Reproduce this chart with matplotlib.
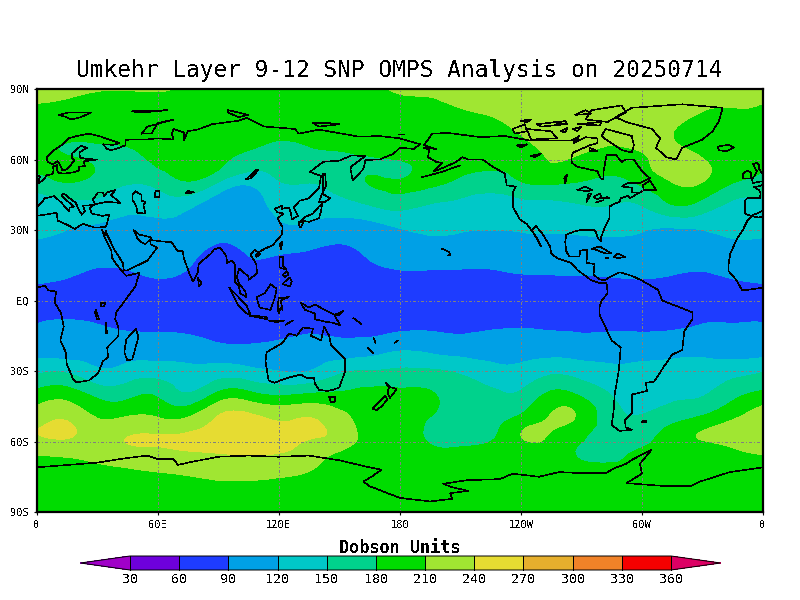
import numpy as np
import matplotlib
matplotlib.use("Agg")
import matplotlib.pyplot as plt
from matplotlib.tri import Triangulation, UniformTriRefiner

plt.rcParams["font.family"] = "DejaVu Sans Mono"
plt.rcParams["text.antialiased"] = False
plt.rcParams["lines.antialiased"] = False

TITLE = "Umkehr Layer 9-12 SNP OMPS Analysis on 20250714"
UNITS = "Dobson Units"

LEVELS = [30, 60, 90, 120, 150, 180, 210, 240, 270, 300, 330, 360]
COLORS = ["#a000c8", "#6e00dc", "#1e3cff", "#00a0e6", "#00c8c8", "#00d28c", "#00dc00",
          "#a0e632", "#e6dc32", "#e6af2d", "#f08228", "#f50000", "#dc0064"]

LON_TICKS = [0, 60, 120, 180, 240, 300, 360]
LON_LABELS = ["0", "60E", "120E", "180", "120W", "60W", "0"]
LAT_TICKS = [-90, -60, -30, 0, 30, 60, 90]
LAT_LABELS = ["90S", "60S", "30S", "EQ", "30N", "60N", "90N"]

# field, one list per longitude
LATS = [90, 80, 70, 65, 60, 55, 50, 40, 30, 20, 10, 0, -10, -20, -30, -40, -50, -55, -60, -65, -70, -80, -90]
LONS = list(range(0, 361, 15))
F000 = [216, 206, 195, 191, 187, 183, 162, 138, 126, 110, 96, 81, 90, 105, 142, 191, 225, 239.5, 232, 213, 200, 192, 185]
F015 = [213, 204, 186, 178, 184, 190, 179, 139, 120, 106, 91, 79, 93, 102, 145, 197, 236, 246, 236, 216, 202, 192, 185]
F030 = [211, 200, 184, 178, 176, 178.5, 168, 140, 113, 98, 84, 76, 90, 106, 125, 172, 210, 225, 230, 222, 208, 195, 185]
F045 = [211, 197, 186, 179.5, 174, 165, 152, 127, 110, 99, 85, 74, 84, 105, 130, 171, 213, 231, 241, 228, 213, 196, 185]
F060 = [211, 202, 192, 188, 184, 176, 158, 130, 110, 100, 91, 75, 84, 103, 135, 176, 211, 233, 243, 232, 217, 198, 185]
F075 = [209, 204, 197, 195, 192, 187, 177, 125, 108, 97, 85, 72, 82, 102, 127, 153, 212, 236, 246, 237, 221, 200, 185]
F090 = [209, 204, 197, 193, 188, 178, 147, 103, 96, 83, 75, 70, 78, 95, 133, 188, 243, 250, 254, 240, 226, 202, 185]
F105 = [209, 203, 191, 183, 169, 151, 124, 104, 97, 91, 80, 70, 76, 93, 128, 190, 248, 254, 256, 243, 228, 202, 185]
F120 = [209, 200, 183, 175, 165, 156, 147, 128, 113, 91, 80, 72, 78, 96, 120, 177, 236, 248, 252, 240, 224, 200, 185]
F135 = [208, 197, 184, 179.5, 173, 163, 150, 132, 112, 87, 76, 70, 80, 101, 120, 183, 240.5, 246, 238, 225, 215, 197, 185]
F150 = [208, 196, 187, 182, 175, 170, 163, 135, 104, 83, 74, 68, 83, 98, 143, 185, 220, 229, 226, 207, 199, 192, 185]
F165 = [207, 198, 190, 186, 178, 178, 181, 147, 107, 93, 80, 68, 78, 103, 151, 190, 202, 202, 201, 199, 196, 190, 185]
F180 = [212, 203, 194, 190, 181, 174, 183, 158, 118, 100, 84, 68, 80, 114, 155, 187, 200, 202, 200, 198, 195, 190, 185]
F195 = [213, 204, 197, 193, 191, 190, 186, 145, 124, 103, 84, 70, 83, 110, 154, 183, 179, 174, 178, 186, 192, 189, 185]
F210 = [219, 208, 199, 195, 192, 185, 172, 139, 122, 101, 84, 70, 82, 104, 145, 165, 172, 173, 176, 186, 191, 188, 185]
F225 = [224, 212, 198, 191, 186, 179, 163, 135, 120.5, 103, 83, 70, 84, 106, 130, 157, 168, 173, 180, 187, 190, 188, 185]
F240 = [233, 222, 209, 200, 194, 187, 178, 136, 121, 105, 87, 70, 86, 106, 129, 155, 188, 208, 206, 197, 194, 189, 185]
F255 = [237, 231, 224, 216, 211, 203, 183, 140, 122, 105, 88, 72, 84, 107, 142, 187, 212, 211, 205, 202, 197, 190, 185]
F270 = [238, 233, 224, 214, 206, 192, 178, 147, 124, 107, 89, 73, 83, 103, 136, 175, 203, 190, 181, 175, 185, 188, 185]
F285 = [238, 232, 216, 209, 202, 186, 172, 148, 126, 108, 90, 74, 83, 105, 127, 149, 160, 166, 170, 175, 181, 186, 185]
F300 = [238, 230, 219, 213, 206, 199, 185, 149, 122, 107, 92, 74, 82, 107, 126, 138, 153, 163, 173, 185, 186, 186, 185]
F315 = [238, 225, 210.5, 215, 222, 223, 209, 176, 116, 104, 88, 74, 84, 108, 130, 145, 168, 190, 197, 196, 194, 188, 185]
F330 = [235, 209, 198, 203, 211, 216, 209, 165, 120, 103, 85, 77, 90, 108, 134, 148, 186, 209, 209, 197, 193, 187, 185]
F345 = [220, 208, 204, 203, 201, 198, 180, 142, 126, 110, 92, 75, 90.5, 104, 138, 171, 207, 222, 217, 205, 198, 190, 185]
F360 = [215, 207, 198, 192, 187, 179, 170, 140, 126, 108, 95, 82, 90.5, 103, 148, 188, 232, 238, 232, 212, 200, 192, 185]

# coastlines as (lon, lat), lon runs 0..360
EUROPE_ASIA = [(0, 49.4), (1.5, 50.2), (3.5, 51.3), (4.5, 52.5), (5, 53.3), (8, 53.8), (8.5, 55.5), (8, 57), (10.5, 57.7), (10, 56),
               (10.8, 54.3), (14, 54), (18.5, 54.6), (21, 55.3), (21, 57), (24, 57.2), (23.5, 59.2), (28, 59.7), (30, 60), (25, 60.2), (21.5, 60.8),
               (21.3, 63), (25, 65), (22, 65.8), (17.5, 62.5), (17.5, 60.7), (18.8, 59.8), (16.5, 57), (14.3, 55.5), (12.8, 55.5), (11.5, 58), (10.5, 59.3),
               (8, 58), (5.5, 59), (5, 61), (8, 63.5), (13, 66.5), (16, 69), (20, 70), (25.7, 71), (31, 70), (41, 67), (38, 66.2), (33, 66.5), (35, 64.5),
               (37, 64), (40, 64.7), (44, 66), (44, 68.4), (54, 68.5), (60, 69), (68, 68.5), (67, 71), (68, 73), (73, 71.5), (73, 68), (75, 72), (80, 72.8),
               (87, 75), (100, 76.5), (104, 77.7), (113, 74), (128, 73), (130, 71), (140, 72.7), (160, 69.7), (170, 70), (180, 69), (190, 66.5), (187, 64.5),
               (180, 65), (177, 62.5), (170, 60), (163, 59.8), (162, 56), (156.7, 51), (155.6, 56), (156, 57), (163, 61.5), (156, 61.7), (150, 59.5), (142, 59),
               (135.5, 54.7), (141, 53), (140, 48), (135, 43.5), (130.5, 42.5), (127.5, 39.7), (129.5, 36), (126.5, 34.5), (126, 37.5), (125, 39.6), (121.5, 39),
               (122, 40.5), (118, 39), (119.5, 37.5), (122.5, 37), (119.5, 35), (122, 31), (121.5, 28), (117, 23.5), (113, 22), (110, 20.5), (108, 21.5),
               (106, 19.5), (108.9, 15.5), (109.3, 11.5), (105, 8.7), (105, 10.2), (100.5, 13.5), (99.2, 10), (100.5, 7), (103.4, 4), (104, 1.5), (101, 3),
               (100.3, 6), (98.3, 8), (98.5, 15), (97, 17), (94.5, 16), (94, 19), (91, 22.5), (88, 21.8), (86.5, 20), (80.3, 15.5), (80, 12), (77.5, 8), (76, 11),
               (73, 18), (72.5, 21), (70, 21), (67, 24.8), (61.5, 25.2), (57, 25.7), (56.5, 27), (51, 28), (48, 30), (50, 26.5), (51.5, 25), (54, 24), (56.3, 26),
               (56.5, 24), (59.8, 22.5), (55, 17), (45, 12.8), (43.3, 12.7), (42.8, 16), (39, 21), (35, 28), (34.5, 29.5), (34.3, 27.8), (33, 29), (32.5, 30)]
AFRICA_E = [(32.5, 30), (33.7, 27), (37, 21.5), (37.5, 18), (40, 15), (43.3, 11.5), (44.5, 10.5), (51, 11.8), (49, 6), (43, -1), (39.5, -5), (39, -8), (40.5, -11),
            (40.7, -15), (35, -20), (35.5, -24), (32.8, -26), (30.5, -31), (26, -34), (20, -34.8), (18.3, -33.8), (15, -27), (14.5, -22), (11.8, -17), (13.5, -11),
            (12, -5), (9, -1), (9.7, 3.8), (6, 4.3), (4, 6.3), (0, 5.5)]
AFRICA_W = [(360, 5.5), (352, 4.5), (349.5, 4.5), (347, 8.5), (343, 12.5), (342.8, 14.7), (343.8, 20), (347, 26), (350, 30), (352.3, 34), (354.5, 35.8), (358, 35.3), (360, 36)]
MEDITERRANEAN = [(0, 36), (10, 37.3), (10.5, 34), (15, 32.3), (19, 30.5), (23, 32.6), (29, 31), (32.5, 31.2), (34.3, 31.3), (35, 33), (36, 36.5), (32.5, 36), (30, 36.5),
                 (27.3, 37), (26.3, 39.5), (29, 41), (35, 42), (41.5, 41.5), (37, 44.8), (39, 47), (35, 46), (33.5, 44.5), (33, 46), (30.5, 46), (28, 43), (29, 41), (26, 40.5),
                 (23, 40.5), (24, 38), (22.5, 36.5), (21, 38.5), (19.5, 41.5), (13.5, 45.5), (12.3, 44.5), (16, 41.8), (18.5, 40), (16.5, 39.5), (16, 38), (12.5, 41.5),
                 (8.8, 44.4), (4, 43.5), (3, 42), (0, 39.5)]
IBERIA = [(360, 39.5), (359.5, 38), (354, 36), (351, 37), (351, 42.5), (352.2, 43.5), (358.5, 43.5), (358.8, 45.5), (358, 47), (355.5, 48.4), (358.5, 48.7), (360, 49.4)]
UK_E = [(0, 53.5), (1.7, 52.7), (1, 51), (0, 50.8)]
UK_W = [(360, 50.8), (355, 50), (354.5, 51.6), (356, 53.3), (357, 55), (355, 58), (357, 58.6), (358, 57.7), (358, 56), (360, 53.5)]
IRELAND = [(350, 52), (350, 54), (352, 55.2), (354, 54.5), (354, 52), (350, 52)]
ICELAND = [(338, 64), (337.5, 65.5), (343, 66.3), (345.5, 65), (342, 63.5), (338, 64)]
CASPIAN = [(50, 37.3), (54, 37), (53, 40.5), (54, 42), (52, 42.5), (52, 45), (49, 46.5), (47.5, 45), (47.5, 43), (49.5, 40), (50, 37.3)]
ARAL = [(58.5, 44), (61, 44), (61, 46.5), (59, 46.5), (58.5, 44)]
BAIKAL = [(104, 51.7), (106, 52), (110, 55.5), (109, 55.7), (104, 51.7)]
BALKHASH = [(74, 45.5), (78, 46), (75, 46.7), (74, 45.5)]
VICTORIA = [(32, -1), (34, -1), (33.5, -2.5), (32, -2.5), (32, -1)]
TANGANYIKA = [(29.5, -4), (31, -8), (30, -8), (29, -5), (29.5, -4)]
MALAWI = [(34.5, -9.5), (34.5, -14), (35, -14), (34.3, -9.5)]
MADAGASCAR = [(49.3, -12), (50.5, -15.5), (47.5, -25), (45, -25.5), (43.5, -22), (44.5, -16.5), (49.3, -12)]
SRI_LANKA = [(80, 9.5), (81.8, 7.5), (80.5, 6), (80, 9.5)]
HONSHU = [(131, 34), (135, 33.5), (140, 35), (141, 38), (141.5, 41), (140, 40), (137, 37), (133, 35.5), (131, 34)]
KYUSHU = [(130, 33.5), (132, 33), (131, 31), (130, 32), (130, 33.5)]
HOKKAIDO = [(140, 42), (141.5, 45.5), (145.5, 43.5), (143, 42), (140, 42)]
SAKHALIN = [(142, 46), (143.5, 49), (143, 54), (142, 54), (142, 50), (142, 46)]
TAIWAN = [(121, 22), (122, 25), (120.5, 24), (121, 22)]
HAINAN = [(109, 18.5), (111, 19.7), (110, 20.2), (108.7, 19.3), (109, 18.5)]
LUZON = [(120.5, 14), (120.5, 18.5), (122.2, 18.5), (122, 15), (124, 13), (120.5, 14)]
MINDANAO = [(122, 7), (125.5, 6), (126.5, 8), (125.5, 9.7), (123, 8), (122, 7)]
VISAYAS = [(122, 11), (123, 10), (125, 11), (124, 12.5), (122, 11)]
BORNEO = [(109, 1.5), (113, 3), (116, 7), (119, 5), (118, 1), (116, -4), (110.5, -3), (109, 1.5)]
SUMATRA = [(95.5, 5.5), (104, -2), (106, -6), (104, -5.5), (100, -2), (95.5, 5.5)]
JAVA = [(105.5, -6.5), (114.5, -8), (114, -7), (108, -6.5), (105.5, -6.5)]
SULAWESI = [(120, 1), (125, 1.5), (121, 0), (122, -4), (121, -3), (120, -5.5), (119.5, -3), (120, 1)]
NEW_GUINEA = [(131, -1), (135, -3), (138, -1.7), (145, -5), (147.5, -6), (150.5, -10.5), (147, -9.5), (143, -9), (138, -8), (138, -5.5), (133, -4), (131, -1)]
TIMOR = [(123.5, -10.3), (127, -8.5), (125, -9.5), (123.5, -10.3)]
SUNDA = [(115, -8.5), (120, -8.5), (123, -8.5), (119, -9.2), (115, -8.5)]
NEW_BRITAIN = [(148, -6), (152, -4.5), (150, -6.3), (148, -6)]
SOLOMON = [(157, -7.5), (161, -10)]
NEW_CALEDONIA = [(164, -20), (167, -22.5), (165, -21), (164, -20)]
VANUATU = [(167, -16), (168, -18)]
FIJI = [(177.5, -18), (179, -17)]
HAWAII = [(201, 22), (203, 21.3), (204.5, 20.5), (205, 19.5), (204, 19.2)]
AUSTRALIA = [(114, -22), (113.5, -26), (115, -34), (118, -35), (124, -33), (131, -31.5), (134, -33), (137.5, -33), (138, -35.5), (140, -38), (144, -38.5), (147, -38),
             (150, -37), (153, -30), (153, -25), (146, -19), (145, -15), (142.5, -11), (141, -17), (136, -15), (137, -12), (132, -11.5), (129, -15), (125, -14), (122, -18),
             (117, -20.5), (114, -22)]
TASMANIA = [(145, -41), (148, -41), (148, -43), (146, -43.5), (145, -41)]
NZ_NORTH = [(173, -35), (175.5, -37), (178.5, -37.5), (176.5, -40), (175, -41.5), (174, -39), (174.7, -37), (173, -35)]
NZ_SOUTH = [(172.7, -40.7), (174, -42), (171, -45), (168.5, -46.7), (166.5, -46), (170, -43), (172.7, -40.7)]
GREENLAND = [(287, 78), (295, 82), (320, 83.5), (340, 82), (338, 76), (335, 72), (330, 68.5), (320, 65), (317, 60), (312, 61), (307, 65), (309, 69), (305, 73), (292, 76), (287, 78)]
BAFFIN = [(282, 73), (295, 70), (296, 66), (295, 63), (290, 64), (283, 68), (280, 70), (282, 73)]
VICTORIA_ISLAND = [(243, 73), (255, 72), (258, 69), (245, 68.5), (243, 73)]
BANKS = [(236, 73), (242, 75), (243, 72), (237, 71), (236, 73)]
ELLESMERE = [(272, 77), (283, 76), (292, 80), (290, 83), (275, 81), (272, 77)]
AXEL_HEIBERG = [(267, 79), (272, 81), (275, 79.5), (267, 79)]
DEVON = [(268, 75), (280, 76), (279, 74.5), (268, 75)]
MELVILLE = [(248, 75), (258, 76), (262, 75), (250, 74), (248, 75)]
BATHURST = [(258, 75.5), (262, 76.5), (263, 75), (258, 75.5)]
SOMERSET = [(266, 73), (270, 74), (268, 72), (266, 73)]
PRINCE_WALES = [(260, 72), (263, 73.5), (262, 71.5), (260, 72)]
PRINCE_PATRICK = [(240, 76.5), (245, 77), (243, 75.8), (240, 76.5)]
SOUTHAMPTON = [(274, 65), (278, 63.5), (274, 63.5), (274, 65)]
NEWFOUNDLAND = [(300.5, 49), (304, 51), (307, 47), (301, 47), (300.5, 49)]
NORTH_AMERICA = [(192, 66), (196, 71), (204, 71.3), (220, 69.5), (232, 70), (245, 68), (255, 68), (265, 68), (269, 70), (266, 67), (272, 69.5), (278, 69), (278, 67), (274, 66),
                 (266, 63), (265, 61), (265.3, 58.7), (267.5, 57), (278, 55), (279.5, 52), (281, 51.5), (281, 55), (282.5, 62), (287, 62), (290, 59), (292, 60), (296, 60),
                 (300, 55), (304, 52), (299, 50), (293, 50), (290, 48.5), (295, 48), (295, 46), (299, 46), (300, 46.5), (294, 43.5), (293, 44.5), (289.5, 43.5), (289, 42),
                 (286, 41), (284, 40), (284, 38), (284, 35), (282, 32), (279.8, 27), (280, 25.3), (278.5, 26), (277, 29.5), (276, 30), (270, 30), (267, 29.5), (262.5, 28),
                 (262, 25), (262.5, 21), (264, 18.7), (269, 18.8), (269.5, 21.3), (273, 21.5), (272.5, 16), (276.5, 15.5), (276, 11), (279, 9), (281.5, 8.5)]
AMERICA_WEST = [(282.5, 7.5), (279, 7.5), (275, 8.5), (272, 10.5), (268, 13), (265, 16), (258, 18), (255, 20), (254.5, 23), (251, 28), (247.5, 31.7), (245.5, 30), (250, 23),
                (247.7, 27), (243, 32.5), (239.5, 34.5), (236, 40), (236, 46), (237.5, 48.5), (233, 49), (232, 54), (226, 57), (221, 60), (214, 60), (211, 61), (208, 59),
                (203, 57), (197, 55), (201, 58.5), (198, 59), (194, 61), (194.5, 64), (192, 65), (198, 64.5), (192, 66)]
ALEUTIANS = [(191, 52.5), (200, 54.5), (205, 56), (210, 57.5)]
SOUTH_AMERICA = [(281.5, 8.5), (284, 10), (289, 12), (295, 10.5), (300, 8.5), (308, 4.5), (310, 0), (316, -2), (325, -5), (325, -8), (321, -13), (320, -21), (315, -23), (311, -28),
                 (306, -34.5), (302, -35), (302.5, -38.5), (295, -40), (295, -42), (295, -48), (291.5, -51), (292, -54), (295, -55), (289, -55.5), (285, -53), (286, -47),
                 (286.5, -40), (288.5, -30), (289.5, -20), (285, -17), (279, -6), (279, -3), (280, 0), (283, 3), (282.5, 7.5)]
FALKLANDS = [(300, -51.5), (302, -51), (302, -52), (300, -52), (300, -51.5)]
CUBA = [(275, 22), (279, 23), (285, 20), (282, 20), (277.5, 21.5), (275, 22)]
HISPANIOLA = [(286, 18.5), (288, 20), (291.5, 18.5), (288, 18), (286, 18.5)]
JAMAICA = [(282, 18), (283.5, 18.2)]
SUPERIOR = [(268, 47), (272, 48.5), (275.5, 47), (273, 46.5), (268, 47)]
MICHIGAN = [(272.5, 42), (273.5, 45.5), (275, 45.5), (272.5, 42)]
HURON = [(276, 44), (279, 45.5), (280, 44), (278, 43), (276, 44)]
ERIE = [(277, 41.7), (281, 42.7), (277, 41.7)]
ONTARIO = [(280, 43.5), (284, 43.5), (283, 44), (280, 43.5)]
GREAT_BEAR = [(238, 66), (243, 66.5), (240, 65), (238, 66)]
GREAT_SLAVE = [(245, 61.5), (250, 62.5), (247, 61), (245, 61.5)]
WINNIPEG = [(262, 50), (263, 53.5), (261.5, 52), (262, 50)]
SVALBARD = [(11, 79), (16, 80), (27, 80), (22, 78), (17, 77), (15, 78), (11, 79)]
NOVAYA_ZEMLYA = [(52, 71), (55, 74), (68, 77), (60, 75.5), (57, 71), (52, 71)]
FRANZ_JOSEF = [(47, 80.5), (65, 81), (52, 80), (47, 80.5)]
SEVERNAYA = [(95, 81), (105, 79), (100, 78), (95, 80), (95, 81)]
NOVOSIBIRSK = [(137, 75.5), (145, 75.5), (150, 75), (140, 74), (137, 75.5)]
WRANGEL = [(179, 71), (182, 71)]
ANTARCTICA = [(0, -71), (15, -70), (30, -69), (45, -67), (55, -66), (60, -67.5), (68, -67.5), (70, -70), (75, -69), (90, -66.5), (105, -66), (120, -66.5), (135, -66), (150, -68),
              (165, -71), (171, -72), (166, -75), (162, -77), (165, -79), (180, -84), (195, -85.5), (206, -84.4), (205, -82), (214, -81), (206, -79.5), (201.5, -78), (213, -76.5),
              (229.6, -76), (236, -73.7), (249, -75), (259, -73), (266, -73.3), (282.5, -73.3), (286, -71.5), (292.4, -69.4), (295.7, -67.5), (304.8, -63.5), (299, -69.5), (300, -73.7),
              (292.4, -77.7), (312, -79), (324, -79), (329, -77), (343.6, -73), (360, -71)]

COASTS = [EUROPE_ASIA, AFRICA_E, AFRICA_W, MEDITERRANEAN, IBERIA, UK_E, UK_W, IRELAND, ICELAND, CASPIAN, ARAL, BAIKAL, BALKHASH, VICTORIA, TANGANYIKA, MALAWI,
          MADAGASCAR, SRI_LANKA, HONSHU, KYUSHU, HOKKAIDO, SAKHALIN, TAIWAN, HAINAN, LUZON, MINDANAO, VISAYAS, BORNEO, SUMATRA, JAVA, SULAWESI, NEW_GUINEA, TIMOR, SUNDA,
          NEW_BRITAIN, SOLOMON, NEW_CALEDONIA, VANUATU, FIJI, HAWAII, AUSTRALIA, TASMANIA, NZ_NORTH, NZ_SOUTH, GREENLAND, BAFFIN, VICTORIA_ISLAND, BANKS, ELLESMERE, AXEL_HEIBERG, DEVON,
          MELVILLE, BATHURST, SOMERSET, PRINCE_WALES, PRINCE_PATRICK, SOUTHAMPTON, NEWFOUNDLAND, NORTH_AMERICA, AMERICA_WEST, ALEUTIANS, SOUTH_AMERICA, FALKLANDS, CUBA, HISPANIOLA,
          JAMAICA, SUPERIOR, MICHIGAN, HURON, ERIE, ONTARIO, GREAT_BEAR, GREAT_SLAVE, WINNIPEG, SVALBARD, NOVAYA_ZEMLYA, FRANZ_JOSEF, SEVERNAYA, NOVOSIBIRSK, WRANGEL, ANTARCTICA]

field = np.column_stack([F000, F015, F030, F045, F060, F075, F090, F105, F120, F135, F150, F165, F180,
                         F195, F210, F225, F240, F255, F270, F285, F300, F315, F330, F345, F360])

W, H = 800, 600
fig = plt.figure(figsize=(W / 100, H / 100), dpi=100)

# map axes, pixel box 36.5..763 by 89..512
ax = fig.add_axes([36.5 / W, 1 - 512 / H, (763 - 36.5) / W, (512 - 89) / H])

# smooth the contour lines the way GrADS does, with matplotlib's own refiner
lon_grid, lat_grid = np.meshgrid(LONS, LATS)
tri = Triangulation(lon_grid.ravel(), lat_grid.ravel())
tri_fine, field_fine = UniformTriRefiner(tri).refine_field(field.ravel(), subdiv=3)
cf = ax.tricontourf(tri_fine, field_fine, levels=LEVELS, colors=COLORS, extend="both", antialiased=False)

for path in COASTS:
    xs = [p[0] for p in path]
    ys = [p[1] for p in path]
    ax.plot(xs, ys, color="black", lw=0.4, zorder=3)

ax.set_xlim(0, 360)
ax.set_ylim(-90, 90)
ax.set_xticks(LON_TICKS)
ax.set_xticklabels(LON_LABELS, fontsize=7.5)
ax.set_yticks(LAT_TICKS)
ax.set_yticklabels(LAT_LABELS, fontsize=7.5)
ax.tick_params(length=2.5, width=0.8, pad=3)
ax.grid(True, color="#808080", lw=0.6, linestyle=(0, (3, 3, 1, 3)))
ax.set_axisbelow(False)
for s in ax.spines.values():
    s.set_linewidth(1.6)
    s.set_zorder(10)

fig.text(399.5 / W, 1 - 77 / H, TITLE, ha="center", va="baseline", fontsize=16.4)
fig.text(400 / W, 1 - 552.7 / H, UNITS, ha="center", va="baseline", fontsize=12.2, fontweight="bold")

# colour bar, tip to tip 80.5..720.5 by 556..570
cax = fig.add_axes([80.5 / W, 1 - 570 / H, 640 / W, 14 / H])
cb = fig.colorbar(cf, cax=cax, orientation="horizontal", extend="both", extendfrac=0.0915, ticks=LEVELS, drawedges=True)
cb.ax.tick_params(length=0, pad=2, labelsize=9.6)
cb.outline.set_linewidth(0.7)
cb.dividers.set_linewidth(0.7)
cb.dividers.set_color("black")

fig.savefig("out.png", dpi=100)
